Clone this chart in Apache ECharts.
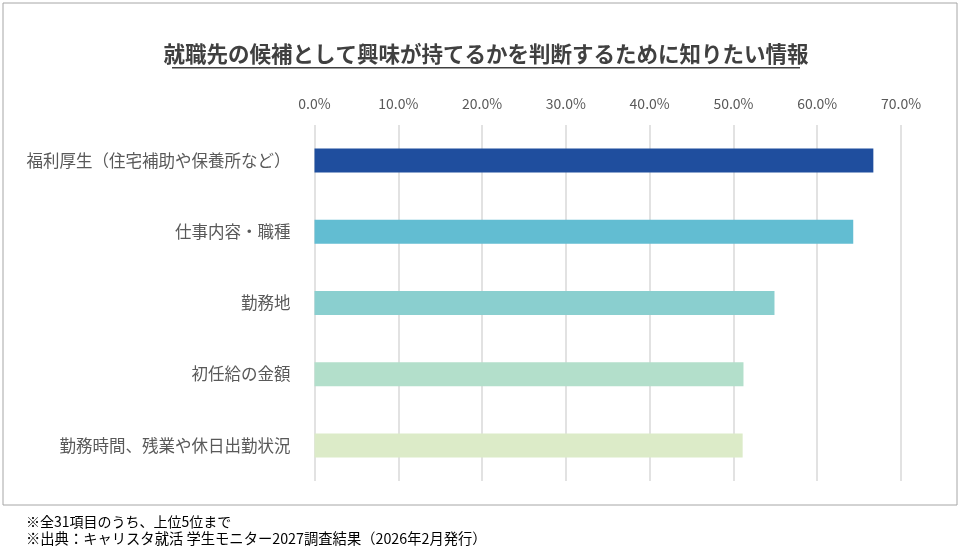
<!DOCTYPE html>
<html><head><meta charset="utf-8">
<script src="https://cdn.jsdelivr.net/npm/echarts@6/dist/echarts.min.js"></script>
<style>html,body{margin:0;padding:0;background:#fff}#c{width:961px;height:553px}</style>
</head><body><div id="c"></div>
<script>
const categories = ['福利厚生（住宅補助や保養所など）','仕事内容・職種','勤務地','初任給の金額','勤務時間、残業や休日出勤状況'];
const values = [66.7, 64.3, 54.9, 51.2, 51.1];
const colors = ['#1F4E9E','#62BDD2','#8ACFCF','#B3DFCB','#DCEBC8'];
const titleText = '就職先の候補として興味が持てるかを判断するために知りたい情報';
const notes = ['※全31項目のうち、上位5位まで','※出典：キャリスタ就活 学生モニター2027調査結果（2026年2月発行）'];
const font = '"Noto Sans CJK JP", sans-serif';
const chart = echarts.init(document.getElementById('c'));
chart.setOption({
  animation:false,
  grid:{left:314.5,right:60,top:125,bottom:72},
  xAxis:{type:'value',position:'top',min:0,max:70,interval:10,
    axisLabel:{formatter:v=>v.toFixed(1)+'%',color:'#595959',fontSize:14,fontFamily:font,margin:14},
    splitLine:{lineStyle:{color:'#D9D9D9',width:1.5}},axisLine:{show:false},axisTick:{show:false}},
  yAxis:{type:'category',inverse:true,data:categories,
    axisLabel:{color:'#595959',fontSize:16.5,fontFamily:font,margin:24},
    axisLine:{show:false},axisTick:{show:false}},
  series:[{type:'bar',barWidth:24,
    data:values.map((v,i)=>({value:v,itemStyle:{color:colors[i]}}))}],
  graphic:[
    {type:'rect',shape:{x:3,y:3,width:954,height:502},style:{fill:'none',stroke:'#A6A6A6',lineWidth:1},silent:true},
    {type:'text',x:486,y:54,style:{text:titleText,fontSize:21.5,fontWeight:'bold',fontFamily:font,fill:'#404040',textAlign:'center',textVerticalAlign:'middle'}},
    {type:'rect',shape:{x:172,y:67,width:628,height:1.5},style:{fill:'#404040'}},
    {type:'text',x:26,y:522,style:{text:notes[0],fontSize:14,fontFamily:font,fill:'#000',textVerticalAlign:'middle'}},
    {type:'text',x:26,y:539,style:{text:notes[1],fontSize:14.3,fontFamily:font,fill:'#000',textVerticalAlign:'middle'}}
  ]
});
</script></body></html>
